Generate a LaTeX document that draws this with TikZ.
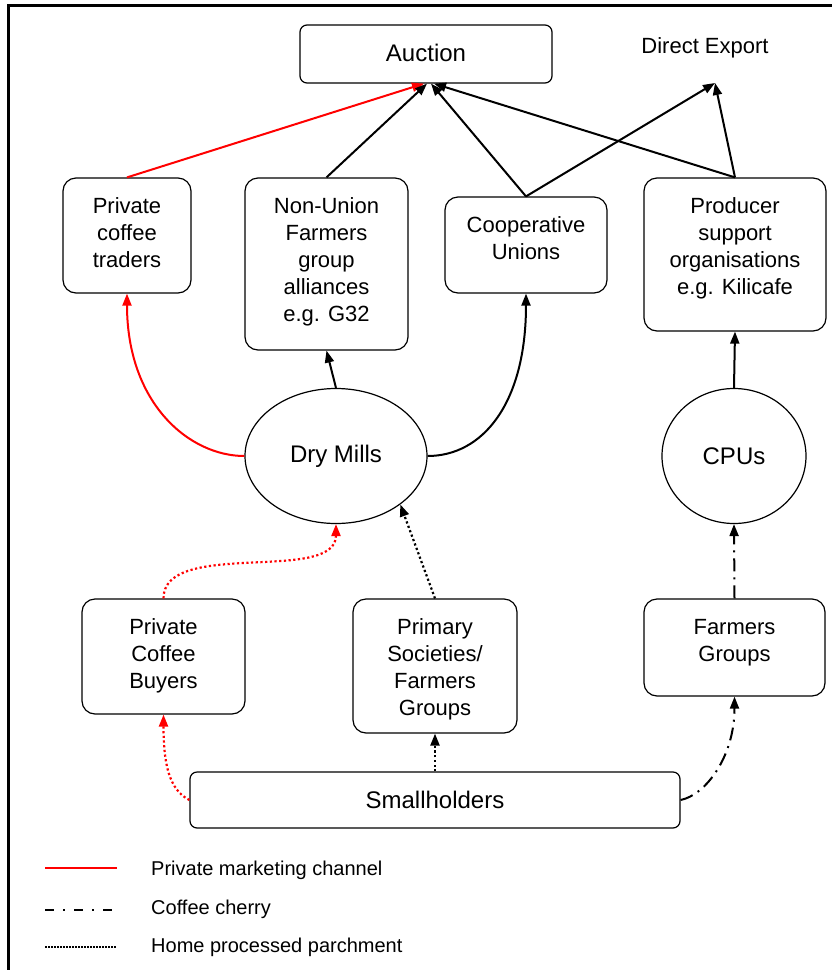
\documentclass[tikz,border=0pt]{standalone}
\usepackage{fontspec}
\setmainfont{Liberation Sans}
\usetikzlibrary{arrows.meta,shapes.geometric}
\newcommand{\mybox}[3]{\parbox[c][#2][t]{#1}{\centering\fontsize{22}{27}\selectfont\rule{0pt}{35pt}#3}}
\tikzset{
  box/.style={draw, line width=1.2pt, rounded corners=13pt, inner sep=0pt},
  bigbox/.style={draw, line width=1.2pt, rounded corners=7pt, inner sep=0pt, font=\fontsize{24}{28}\selectfont},
  oval/.style={draw, ellipse, line width=1.2pt, inner sep=0pt, font=\fontsize{24}{28}\selectfont},
  tip/.style={-{Triangle[length=12pt,width=9pt]}},
  conn/.style={tip, line width=2pt},
  redconn/.style={conn, red},
  dotconn/.style={conn, line width=2.2pt, dash pattern=on 2.2pt off 2.5pt},
  reddot/.style={conn, red, line width=2.2pt, dash pattern=on 2.2pt off 2.5pt},
  dashdot/.style={conn, dash pattern=on 13pt off 6pt on 2pt off 6pt},
  legtext/.style={anchor=base west, inner sep=0pt, font=\fontsize{20}{24}\selectfont}
}
\begin{document}
\begin{tikzpicture}[x=1pt,y=-1pt]
\useasboundingbox (0,0) rectangle (832,970);
\fill[white] (0,0) rectangle (832,970);
% frame
\draw[line width=3pt] (8,970) -- (8,5) -- (832,5);
% top
\node[bigbox, minimum width=252pt, minimum height=58pt] (auction) at (426,54) {\raisebox{3pt}{Auction}};
\node[inner sep=0pt, font=\fontsize{22}{26}\selectfont] (dexp) at (705,48) {Direct Export};
\coordinate (dex) at (715,83);
% second row
\node[box] (traders) at (127,235.5) {\mybox{128pt}{115pt}{Private\\coffee\\traders}};
\node[box] (nonunion) at (326.5,264) {\mybox{163pt}{172pt}{Non-Union\\Farmers\\group\\alliances\\e.g. G32}};
\node[box] (coop) at (526,245) {\mybox{162pt}{96pt}{Cooperative\\Unions}};
\node[box] (producer) at (735,254.5) {\mybox{182pt}{153pt}{Producer\\support\\organisations\\e.g. Kilicafe}};
% ellipses
\node[oval, minimum width=182pt, minimum height=135pt] (dm) at (336,456) {Dry Mills};
\node[oval, minimum width=144pt, minimum height=135pt] (cpu) at (734,456) {CPUs};
% third row
\node[box] (buyers) at (163.5,656.5) {\mybox{163pt}{115pt}{Private\\Coffee\\Buyers}};
\node[box] (primary) at (435,666) {\mybox{164pt}{134pt}{Primary\\Societies/\\Farmers\\Groups}};
\node[box] (farmers) at (734.5,647.5) {\mybox{181pt}{97pt}{Farmers\\Groups}};
% smallholders
\node[bigbox, minimum width=490pt, minimum height=56pt] (small) at (435,800) {Smallholders};
% connectors to auction / direct export
\draw[redconn] (traders.north) -- ([xshift=-2pt]auction.south);
\draw[conn] (nonunion.north) -- ([xshift=1pt]auction.south);
\draw[conn] (coop.north) -- ([xshift=5pt]auction.south);
\draw[conn] (producer.north) -- ([xshift=8pt]auction.south);
\draw[conn] (coop.north) -- (dex);
\draw[conn] (producer.north) -- (dex);
% from dry mills / cpus
\draw[redconn] (dm.west) .. controls +(-55,0) and +(0,110) .. (traders.south);
\draw[conn] (dm.north) -- (nonunion.south);
\draw[conn] (dm.east) .. controls +(55,0) and +(0,110) .. (coop.south);
\draw[conn] (cpu.north) -- (producer.south);
% into dry mills / cpus
\draw[reddot] (buyers.north) .. controls +(0,-60) and +(0,60) .. (dm.south);
\draw[dotconn] (primary.north) -- (dm.-37);
\draw[dashdot] (farmers.north) -- (cpu.south);
% from smallholders
\draw[reddot] (small.west) .. controls +(-20,-10) and +(0,50) .. (buyers.south);
\draw[dotconn] (small.north) -- (primary.south);
\draw[dashdot] (small.east) .. controls +(25,-5) and +(0,60) .. (farmers.south);
% legend
\coordinate (l1a) at (45,868); \coordinate (l1b) at (117,868);
\coordinate (l2a) at (45,910); \coordinate (l2b) at (112,910);
\coordinate (l3a) at (45,947); \coordinate (l3b) at (117,947);
\draw[red, line width=2pt] (l1a) -- (l1b);
\draw[line width=1.8pt, dash pattern=on 9pt off 9pt on 2pt off 9pt] (l2a) -- (l2b);
\draw[line width=1.5pt, dash pattern=on 1.5pt off 1.5pt] (l3a) -- (l3b);
\node[legtext] (lt1) at (151,875) {Private marketing channel};
\node[legtext] (lt2) at (151,914) {Coffee cherry};
\node[legtext] (lt3) at (151,952) {Home processed parchment};
\end{tikzpicture}
\end{document}
